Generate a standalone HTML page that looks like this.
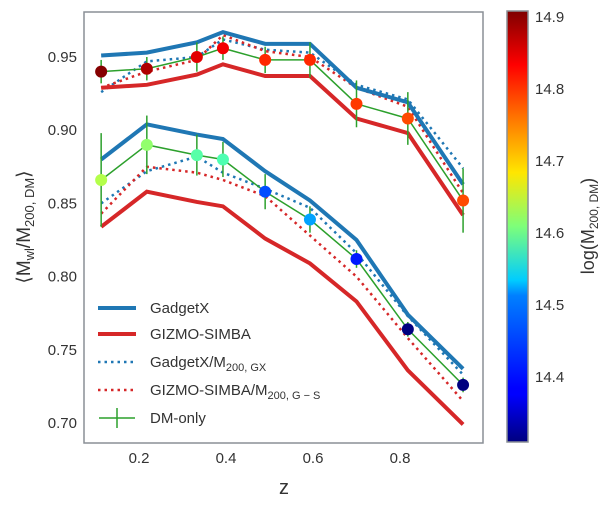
<!DOCTYPE html>
<html><head><meta charset="utf-8">
<style>
body{margin:0;background:#fff;}
svg{display:block;font-family:"Liberation Sans","DejaVu Sans",sans-serif;}
</style></head>
<body>
<svg id="chart" width="609" height="505" xmlns="http://www.w3.org/2000/svg">
<defs>
<linearGradient id="jet" x1="0" y1="1" x2="0" y2="0">
<stop offset="0" stop-color="#00007f"/><stop offset="0.11" stop-color="#0000ff"/>
<stop offset="0.125" stop-color="#0000ff"/><stop offset="0.34" stop-color="#0080ff"/>
<stop offset="0.375" stop-color="#00ccff"/><stop offset="0.5" stop-color="#7dff7a"/>
<stop offset="0.625" stop-color="#ffe600"/><stop offset="0.75" stop-color="#ff7700"/>
<stop offset="0.875" stop-color="#ff0000"/><stop offset="1" stop-color="#7f0000"/>
</linearGradient>
<clipPath id="pc"><rect x="84" y="12" width="399" height="431"/></clipPath>
</defs>
<g id="plot" clip-path="url(#pc)"></g>
<rect x="84" y="12" width="399" height="431" fill="none" stroke="#8a8f96" stroke-width="1.5"/>
<g id="axes"></g>
<rect x="507" y="11" width="21" height="431" fill="url(#jet)" stroke="#8a8f96" stroke-width="1.5"/>
<text x="284" y="494" font-size="20" fill="#333" text-anchor="middle">z</text>
<text transform="translate(30,227) rotate(-90)" font-size="19" fill="#333" text-anchor="middle">⟨M<tspan font-size="13" dy="4">wl</tspan><tspan dy="-4">/M</tspan><tspan font-size="13" dy="4">200, DM</tspan><tspan dy="-4">⟩</tspan></text>
<text transform="translate(594,226) rotate(-90)" font-size="18" fill="#333" text-anchor="middle">log(M<tspan font-size="12" dy="4">200, DM</tspan><tspan dy="-4">)</tspan></text>
<g id="legend" font-size="15" fill="#333">
<line x1="98" y1="308" x2="136" y2="308" stroke="#1f77b4" stroke-width="4"/>
<text x="150" y="313">GadgetX</text>
<line x1="98" y1="334" x2="136" y2="334" stroke="#d62728" stroke-width="4"/>
<text x="150" y="339">GIZMO-SIMBA</text>
<line x1="98" y1="362" x2="136" y2="362" stroke="#1f77b4" stroke-width="2.5" stroke-dasharray="2.5,4"/>
<text x="150" y="367">GadgetX/M<tspan font-size="11" dy="4">200, GX</tspan></text>
<line x1="98" y1="390" x2="136" y2="390" stroke="#d62728" stroke-width="2.5" stroke-dasharray="2.5,4"/>
<text x="150" y="395">GIZMO-SIMBA/M<tspan font-size="11" dy="4">200, G − S</tspan></text>
<line x1="99" y1="418" x2="135" y2="418" stroke="#2ca02c" stroke-width="1.5"/>
<line x1="117" y1="408" x2="117" y2="428" stroke="#2ca02c" stroke-width="1.5"/>
<text x="150" y="423">DM-only</text>
</g>
</svg>
<script>
const zVals=[0.113,0.218,0.333,0.393,0.49,0.593,0.70,0.818,0.945];
const gxUpper=[0.951,0.953,0.960,0.967,0.959,0.959,0.929,0.919,0.863];
const gsUpper=[0.929,0.931,0.938,0.945,0.937,0.937,0.908,0.898,0.842];
const gxMUpper=[0.926,0.947,0.950,0.962,0.955,0.953,0.931,0.921,0.874];
const gsMUpper=[0.929,0.940,0.948,0.965,0.954,0.950,0.929,0.916,0.857];
const dmUpper=[0.940,0.942,0.950,0.956,0.948,0.948,0.918,0.908,0.852];
const dmErrUpper=[0.008,0.008,0.010,0.008,0.009,0.012,0.016,0.018,0.022];
const massUpper=[14.905,14.88,14.85,14.84,14.81,14.81,14.80,14.79,14.79];
const gxLower=[0.880,0.904,0.897,0.894,0.872,0.852,0.825,0.774,0.737];
const gsLower=[0.834,0.858,0.851,0.848,0.826,0.809,0.783,0.736,0.699];
const gxMLower=[0.850,0.872,0.882,0.871,0.860,0.847,0.816,0.773,0.733];
const gsMLower=[0.843,0.875,0.871,0.866,0.855,0.828,0.800,0.758,0.715];
const dmLower=[0.866,0.890,0.883,0.880,0.858,0.839,0.812,0.764,0.726];
const dmErrLower=[0.032,0.020,0.014,0.012,0.012,0.009,0.006,0.005,0.005];
const massLower=[14.64,14.62,14.585,14.58,14.43,14.48,14.40,14.31,14.31];
const yTicks=[0.70,0.75,0.80,0.85,0.90,0.95];
const xTicks=[0.2,0.4,0.6,0.8];
const cTicks=[14.4,14.5,14.6,14.7,14.8,14.9];
const cMin=14.31,cMax=14.908;

const X=z=>52+435*z;
const Y=v=>57+(0.95-v)*1464;
const C=m=>442-(m-cMin)/(cMax-cMin)*431;
const NS="http://www.w3.org/2000/svg";
const plot=document.getElementById('plot'),axes=document.getElementById('axes');
function mk(tag,attrs,parent){const e=document.createElementNS(NS,tag);for(const k in attrs)e.setAttribute(k,attrs[k]);parent.appendChild(e);return e;}
function jet(t){t=Math.max(0,Math.min(1,t));
 const r=Math.max(0,Math.min(1,1.5-Math.abs(4*t-3))),g=Math.max(0,Math.min(1,1.5-Math.abs(4*t-2))),b=Math.max(0,Math.min(1,1.5-Math.abs(4*t-1)));
 return `rgb(${Math.round(r*255)},${Math.round(g*255)},${Math.round(b*255)})`;}
function line(vals,color,w,dash,name){
 const p=mk('polyline',{points:vals.map((v,i)=>X(zVals[i])+','+Y(v)).join(' '),fill:'none',stroke:color,'stroke-width':w},plot);
 if(dash)p.setAttribute('stroke-dasharray',dash);
 
 }
line(gxMUpper,'#1f77b4',2.5,'2.5,4','gadgetx-m200-upper');
line(gsMUpper,'#d62728',2.5,'2.5,4','gizmo-m200-upper');
line(gxMLower,'#1f77b4',2.5,'2.5,4','gadgetx-m200-lower');
line(gsMLower,'#d62728',2.5,'2.5,4','gizmo-m200-lower');
line(gxUpper,'#1f77b4',4,null,'gadgetx-upper');
line(gsUpper,'#d62728',4,null,'gizmo-upper');
line(gxLower,'#1f77b4',4,null,'gadgetx-lower');
line(gsLower,'#d62728',4,null,'gizmo-lower');
function dm(vals,errs,mass,tag){
 line(vals,'#2ca02c',1.5,null,'dm-only-'+tag);
 vals.forEach((v,i)=>{
  const e=mk('line',{x1:X(zVals[i]),x2:X(zVals[i]),y1:Y(v+errs[i]),y2:Y(v-errs[i]),stroke:'#2ca02c','stroke-width':1.5},plot);
  
  });
 vals.forEach((v,i)=>{
  const c=mk('circle',{cx:X(zVals[i]),cy:Y(v),r:6,fill:jet((mass[i]-cMin)/(cMax-cMin))},plot);
  
  });}
dm(dmUpper,dmErrUpper,massUpper,'upper');
dm(dmLower,dmErrLower,massLower,'lower');
yTicks.forEach(v=>{const t=mk('text',{x:77,y:Y(v)+5,'font-size':15,fill:'#333','text-anchor':'end'},axes);t.textContent=v.toFixed(2);
 
 });
xTicks.forEach(v=>{const t=mk('text',{x:X(v),y:463,'font-size':15,fill:'#333','text-anchor':'middle'},axes);t.textContent=v.toFixed(1);
 
 });
cTicks.forEach(v=>{const t=mk('text',{x:535,y:C(v)+5,'font-size':15,fill:'#333'},axes);t.textContent=v.toFixed(1);
 
 });
</script>
</body></html>
